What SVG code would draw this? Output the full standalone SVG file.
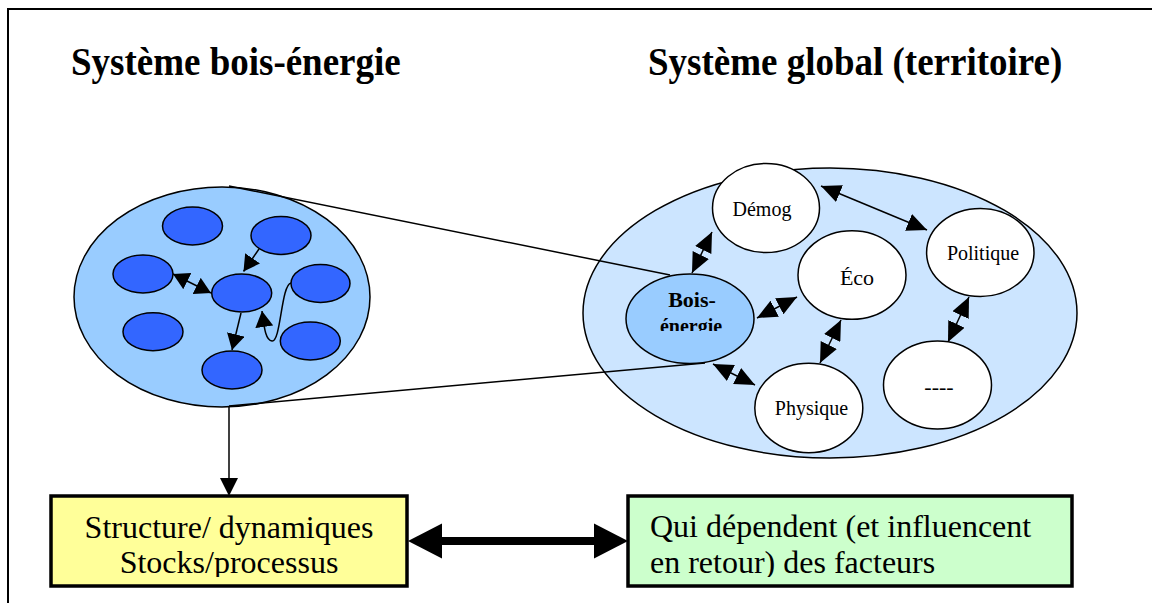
<svg xmlns="http://www.w3.org/2000/svg" width="1152" height="603" viewBox="0 0 1152 603">
<defs>
<style>
text{font-family:'Liberation Serif','Times New Roman',Times,serif;fill:#000}
.h{font-weight:bold;font-size:37px}
.ln{stroke:#000;stroke-width:1.5;fill:none}
.sm{fill:#3366FF;stroke:#000;stroke-width:1.5}
.wh{fill:#fff;stroke:#000;stroke-width:1.5}
.lbl{font-size:20px;text-anchor:middle}
.box{stroke:#000;stroke-width:3.5}
.btx{font-size:32px}
</style>
<marker id="ah" viewBox="0 0 20 18" refX="20" refY="9" markerWidth="20" markerHeight="18" markerUnits="userSpaceOnUse" orient="auto-start-reverse"><path d="M0,0 L20,9 L0,18 z" fill="#000"/></marker>
<marker id="as" viewBox="0 0 16 18" refX="16" refY="9" markerWidth="16" markerHeight="18" markerUnits="userSpaceOnUse" orient="auto-start-reverse"><path d="M0,0 L16,9 L0,18 z" fill="#000"/></marker>
<clipPath id="cy"><rect x="51" y="496" width="356" height="81"/></clipPath>
<clipPath id="cg"><rect x="628" y="496" width="444" height="81"/></clipPath>
<clipPath id="cb"><rect x="620" y="270" width="140" height="61"/></clipPath>
</defs>
<rect width="1152" height="603" fill="#fff"/>
<path d="M8,603 L8,9 L1152,9" fill="none" stroke="#000" stroke-width="2"/>
<g font-family="Liberation Serif, serif" transform="translate(0,75) scale(1,1.09) translate(0,-75)">
<text class="h" x="71" y="75">Système bois-énergie</text>
<text class="h" x="648" y="75">Système global (territoire)</text>
</g>

<g id="left-system">
<ellipse cx="222" cy="297" rx="148" ry="110" fill="#99CCFF" stroke="#000" stroke-width="1.5"/>
<ellipse class="sm" cx="192.5" cy="226" rx="30" ry="19"/>
<ellipse class="sm" cx="281" cy="235.5" rx="30" ry="19"/>
<ellipse class="sm" cx="143" cy="274" rx="30" ry="19"/>
<ellipse class="sm" cx="241.7" cy="293" rx="30" ry="19"/>
<ellipse class="sm" cx="320.5" cy="283.5" rx="29.5" ry="19"/>
<ellipse class="sm" cx="153" cy="331.7" rx="30" ry="19"/>
<ellipse class="sm" cx="310.3" cy="341" rx="30" ry="19"/>
<ellipse class="sm" cx="232" cy="370" rx="30" ry="19"/>
</g>

<g id="right-system">
<ellipse cx="830" cy="313" rx="247" ry="145" fill="#CCE5FF" stroke="#000" stroke-width="1.5"/>
</g>

<g id="connectors">
<line class="ln" x1="229" y1="186" x2="670" y2="275"/>
<line class="ln" x1="229" y1="406" x2="705" y2="363"/>
<line class="ln" x1="259" y1="249" x2="243.5" y2="271.5" marker-end="url(#as)"/>
<line class="ln" x1="173" y1="274" x2="211" y2="293" marker-start="url(#as)" marker-end="url(#as)"/>
<line class="ln" x1="241" y1="313" x2="232" y2="350" marker-end="url(#as)"/>
<path class="ln" d="M291,283 C281,285 281,342 272,341 C265,340 264,325 262,311" marker-end="url(#as)"/>
<line class="ln" x1="712" y1="232" x2="692" y2="273" marker-start="url(#ah)" marker-end="url(#ah)"/>
<line class="ln" x1="757" y1="318" x2="797" y2="297" marker-start="url(#ah)" marker-end="url(#ah)"/>
<line class="ln" x1="841" y1="320" x2="820" y2="363" marker-start="url(#ah)" marker-end="url(#ah)"/>
<line class="ln" x1="713" y1="364" x2="755" y2="385" marker-start="url(#ah)" marker-end="url(#ah)"/>
<line class="ln" x1="821" y1="186" x2="927" y2="230" marker-start="url(#ah)" marker-end="url(#ah)"/>
<line class="ln" x1="969" y1="297" x2="948" y2="342" marker-start="url(#ah)" marker-end="url(#ah)"/>
<line class="ln" x1="229" y1="406" x2="229" y2="480"/>
<polygon points="220,478 238,478 229,496" fill="#000"/>
<line x1="440" y1="541" x2="596" y2="541" stroke="#000" stroke-width="8"/>
<polygon points="408,541 442,523.5 442,558.5" fill="#000"/>
<polygon points="628,541 594,523.5 594,558.5" fill="#000"/>
</g>

<g id="node-demog">
<ellipse class="wh" cx="766" cy="208" rx="53.5" ry="44.5"/>
<text class="lbl" font-family="Liberation Serif, serif" x="762" y="216">Démog</text>
</g>
<g id="node-eco">
<ellipse class="wh" cx="852" cy="275" rx="54" ry="44.3"/>
<text class="lbl" font-family="Liberation Serif, serif" x="857" y="285" style="font-size:22px">Éco</text>
</g>
<g id="node-politique">
<ellipse class="wh" cx="980.3" cy="252.5" rx="53.7" ry="44"/>
<text class="lbl" font-family="Liberation Serif, serif" x="983" y="260">Politique</text>
</g>
<g id="node-bois">
<ellipse cx="690" cy="318.7" rx="64" ry="44.7" fill="#99CCFF" stroke="#000" stroke-width="1.5"/>
<g clip-path="url(#cb)" font-family="Liberation Serif, serif">
<text x="692" y="307" style="font-size:22px;font-weight:bold;text-anchor:middle">Bois-</text>
<text x="691" y="333" style="font-size:20px;font-weight:bold;text-anchor:middle">énergie</text>
</g>
</g>
<g id="node-physique">
<ellipse class="wh" cx="808.8" cy="408" rx="54" ry="44.7"/>
<text class="lbl" font-family="Liberation Serif, serif" x="811.5" y="415">Physique</text>
</g>
<g id="node-etc">
<ellipse class="wh" cx="937.5" cy="385" rx="54" ry="44"/>
<text class="lbl" font-family="Liberation Serif, serif" x="939" y="394" style="font-size:22px">----</text>
</g>

<g id="box-structure">
<rect class="box" x="51" y="496" width="356" height="90" fill="#FFFF99"/>
<g clip-path="url(#cy)" font-family="Liberation Serif, serif">
<text class="btx" x="229" y="538" text-anchor="middle">Structure/ dynamiques</text>
<text class="btx" x="229" y="573" text-anchor="middle">Stocks/processus</text>
</g>
</g>
<g id="box-facteurs">
<rect class="box" x="628" y="496" width="444" height="90" fill="#CCFFCC"/>
<g clip-path="url(#cg)" font-family="Liberation Serif, serif">
<text class="btx" x="650" y="537">Qui dépendent (et influencent</text>
<text class="btx" x="650" y="573">en retour) des facteurs</text>
</g>
</g>
</svg>
